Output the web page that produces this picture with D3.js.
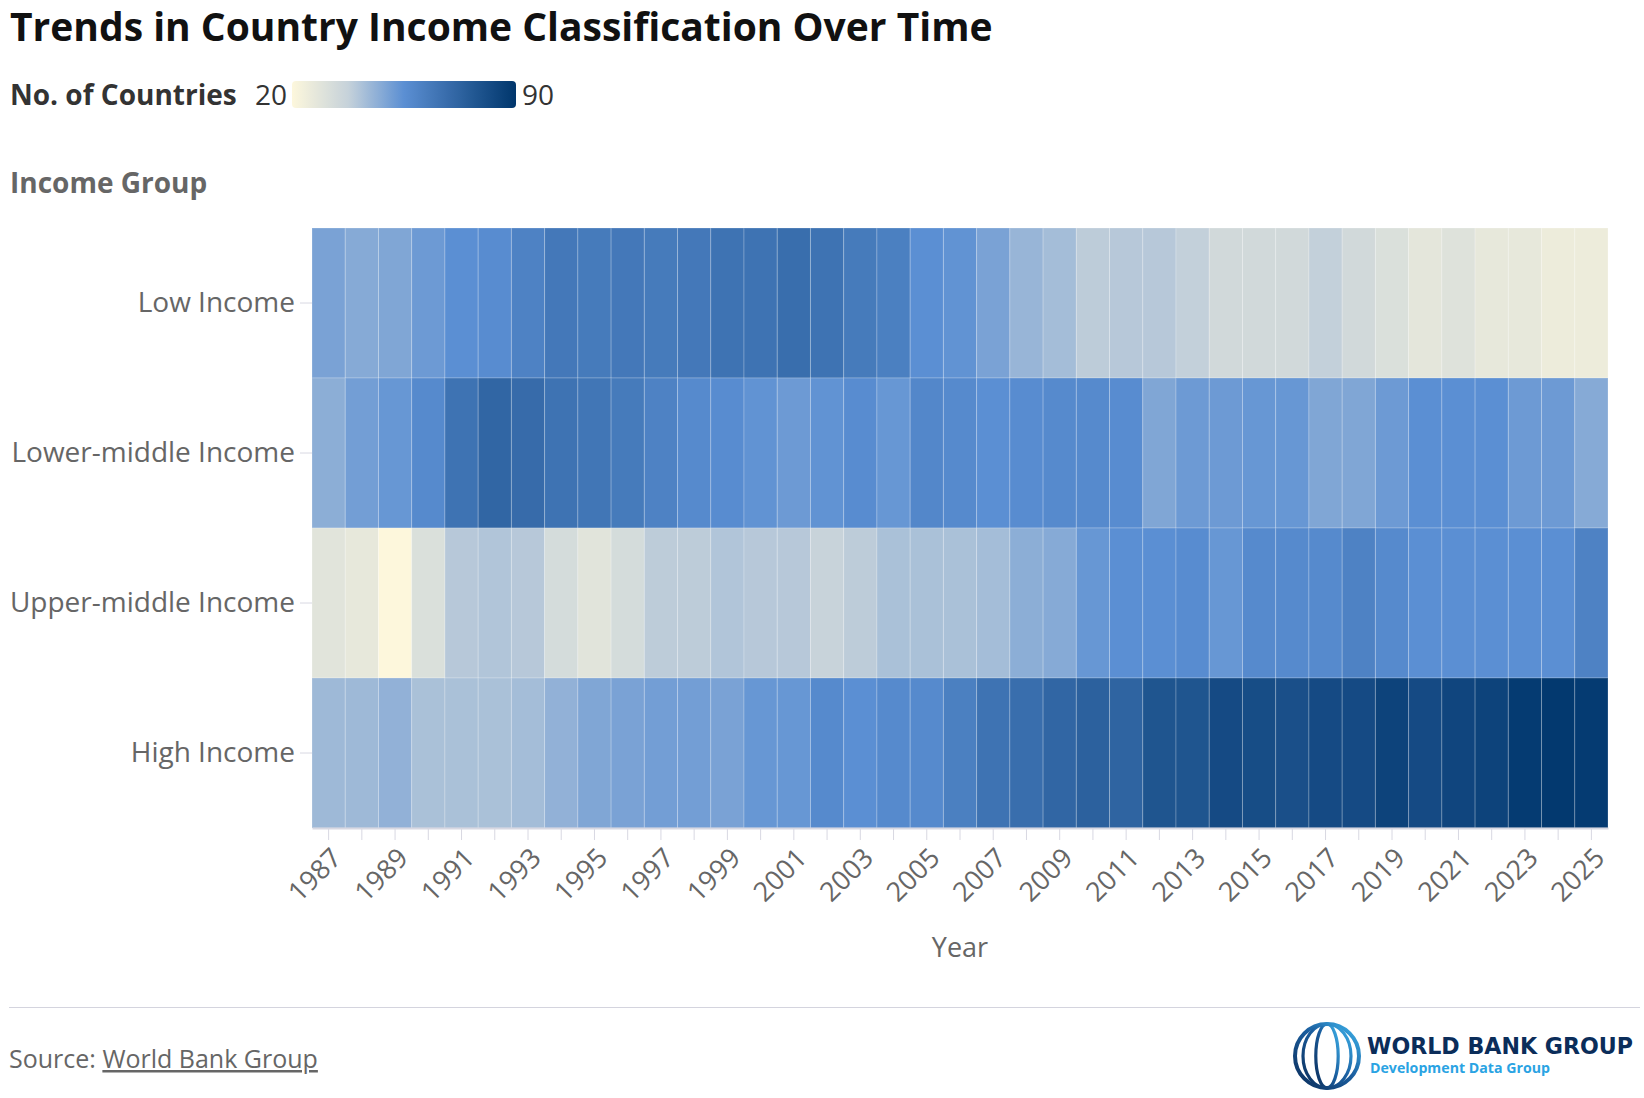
<!DOCTYPE html>
<html>
<head>
<meta charset="utf-8">
<script src="https://cdn.jsdelivr.net/npm/d3@7"></script>
<style>
  body { margin: 0; background: #fff; }
  svg { display: block; font-family: "Open Sans", "Noto Sans", sans-serif; }
</style>
</head>
<body>
<div id="mainDiv"></div>
<script>
'use strict';

// ---- data ----
var years = [1987, 1988, 1989, 1990, 1991, 1992, 1993, 1994, 1995, 1996,
             1997, 1998, 1999, 2000, 2001, 2002, 2003, 2004, 2005, 2006,
             2007, 2008, 2009, 2010, 2011, 2012, 2013, 2014, 2015, 2016,
             2017, 2018, 2019, 2020, 2021, 2022, 2023, 2024, 2025];

var incomeGroups = ["Low Income", "Lower-middle Income", "Upper-middle Income", "High Income"];

var lowIncome   = [50, 48, 49, 52, 55, 56, 60, 64, 63, 64, 63, 64, 66, 66, 68, 66, 63, 61, 55, 54,
                   50, 45, 43, 39, 40, 40, 38, 34, 34, 34, 38, 34, 31, 28, 30, 27, 27, 25, 25];
var lowerMiddle = [47, 51, 53, 57, 66, 71, 69, 66, 65, 63, 60, 57, 56, 54, 52, 54, 56, 53, 58, 57,
                   55, 56, 57, 57, 56, 49, 52, 52, 53, 53, 49, 49, 52, 55, 55, 55, 52, 52, 48];
var upperMiddle = [29, 27, 20, 31, 40, 41, 40, 33, 29, 33, 39, 39, 41, 40, 40, 37, 39, 42, 42, 42,
                   43, 47, 48, 53, 55, 55, 56, 53, 57, 57, 57, 60, 57, 55, 55, 55, 55, 55, 60];
var highIncome  = [44, 44, 46, 42, 42, 42, 43, 46, 49, 50, 51, 51, 50, 53, 53, 57, 55, 57, 57, 61,
                   66, 68, 71, 73, 72, 78, 78, 82, 81, 80, 82, 82, 85, 82, 84, 85, 88, 89, 88];

var seriesValues = [lowIncome, lowerMiddle, upperMiddle, highIncome];

var legendTicks = [20, 90];
var colorDomain = [20, 37.5, 55, 90];
var colorStops  = ["#fdf7dc", "#c6d2da", "#5b8fd3", "#00366c"];

// ---- chart ----
var heatmap = {};

heatmap.width  = 1644;
heatmap.height = 1098;
heatmap.plot   = {left: 312, right: 1608, top: 228, bottom: 828};

heatmap.xScale = d3.scaleBand().domain(years).range([heatmap.plot.left, heatmap.plot.right]);
heatmap.yScale = d3.scaleBand().domain(incomeGroups).range([heatmap.plot.top, heatmap.plot.bottom]);

heatmap.colorScale = d3.scaleLinear()
    .domain(colorDomain)
    .range(colorStops)
    .clamp(true);

heatmap.appendSVG = function(DOMObj) {
    return d3.select(DOMObj).append("svg")
        .attr("width", heatmap.width)
        .attr("height", heatmap.height);
};

heatmap.drawHeader = function(svg) {
    svg.append("text")
        .attr("x", 10).attr("y", 41)
        .attr("font-size", 39).attr("font-weight", 700)
        .attr("fill", "#111")
        .text("Trends in Country Income Classification Over Time");

    svg.append("text")
        .attr("x", 10).attr("y", 105)
        .attr("font-size", 28).attr("font-weight", 700)
        .attr("fill", "#333")
        .text("No. of Countries");

    // legend gradient
    var grad = svg.select("defs").append("linearGradient")
        .attr("id", "legendGrad")
        .attr("x1", "0%").attr("x2", "100%");
    var lo = legendTicks[0], hi = legendTicks[1];
    d3.range(0, 1.0001, 0.05).forEach(function(t) {
        grad.append("stop")
            .attr("offset", (t * 100) + "%")
            .attr("stop-color", heatmap.colorScale(lo + t * (hi - lo)));
    });

    var lx = 292, lw = 224;
    svg.append("rect")
        .attr("x", lx).attr("y", 81)
        .attr("width", lw).attr("height", 27)
        .attr("rx", 4)
        .attr("fill", "url(#legendGrad)");

    svg.append("text")
        .attr("x", lx - 5).attr("y", 105)
        .attr("text-anchor", "end")
        .attr("font-size", 28).attr("fill", "#333")
        .text(legendTicks[0]);
    svg.append("text")
        .attr("x", lx + lw + 6).attr("y", 105)
        .attr("font-size", 28).attr("fill", "#333")
        .text(legendTicks[1]);

    svg.append("text")
        .attr("x", 10).attr("y", 193)
        .attr("font-size", 28).attr("font-weight", 700)
        .attr("fill", "#666")
        .text("Income Group");
};

heatmap.drawCells = function(svg) {
    var cells = [];
    incomeGroups.forEach(function(g, gi) {
        years.forEach(function(y, yi) {
            cells.push({group: g, year: y, value: seriesValues[gi][yi]});
        });
    });

    svg.append("g").selectAll("rect")
        .data(cells)
        .enter().append("rect")
        .attr("x", function(d) { return heatmap.xScale(d.year); })
        .attr("y", function(d) { return heatmap.yScale(d.group); })
        .attr("width", heatmap.xScale.bandwidth())
        .attr("height", heatmap.yScale.bandwidth())
        .attr("fill", function(d) { return heatmap.colorScale(d.value); })
        .attr("stroke", "rgba(255,255,255,0.22)")
        .attr("stroke-width", 1);
};

heatmap.drawAxes = function(svg) {
    var axisColor = "#d8d8e2";

    var yAxis = svg.append("g")
        .attr("transform", "translate(" + heatmap.plot.left + ",0)")
        .call(d3.axisLeft(heatmap.yScale).tickSize(12).tickPadding(5));
    yAxis.select(".domain").remove();
    yAxis.selectAll(".tick line").attr("stroke", axisColor);
    yAxis.selectAll(".tick text")
        .attr("font-size", 28)
        .attr("font-family", "Open Sans, sans-serif")
        .attr("fill", "#666");

    var xAxis = svg.append("g")
        .attr("transform", "translate(0," + heatmap.plot.bottom + ")")
        .call(d3.axisBottom(heatmap.xScale)
            .tickSize(12)
            .tickSizeOuter(0)
            .tickFormat(function(d, i) { return i % 2 === 0 ? d : ""; }));
    xAxis.select(".domain").attr("stroke", axisColor).attr("stroke-width", 2);
    xAxis.selectAll(".tick line").attr("stroke", axisColor);
    xAxis.selectAll(".tick text")
        .attr("x", 0).attr("y", 0).attr("dy", "0.35em")
        .attr("transform", "translate(8,25) rotate(-45)")
        .style("text-anchor", "end")
        .attr("font-size", 27)
        .attr("font-family", "Open Sans, sans-serif")
        .attr("fill", "#666");

    svg.append("text")
        .attr("x", (heatmap.plot.left + heatmap.plot.right) / 2)
        .attr("y", 957)
        .attr("text-anchor", "middle")
        .attr("font-size", 27).attr("fill", "#666")
        .text("Year");
};

heatmap.drawFooter = function(svg) {
    svg.append("line")
        .attr("x1", 9).attr("x2", 1640)
        .attr("y1", 1007.5).attr("y2", 1007.5)
        .attr("stroke", "#d4d4de").attr("stroke-width", 1);

    var src = svg.append("text")
        .attr("x", 9).attr("y", 1068)
        .attr("font-size", 25).attr("fill", "#666");
    src.append("tspan").text("Source: ");
    src.append("tspan")
        .attr("text-decoration", "underline")
        .text("World Bank Group");

    // World Bank Group logo
    var logo = svg.append("g").attr("transform", "translate(1327,1056)");
    var lg = svg.select("defs").append("linearGradient")
        .attr("id", "globeGrad")
        .attr("x1", "0%").attr("y1", "100%").attr("x2", "100%").attr("y2", "0%");
    lg.append("stop").attr("offset", "0%").attr("stop-color", "#0b2d5a");
    lg.append("stop").attr("offset", "55%").attr("stop-color", "#1b5fa0");
    lg.append("stop").attr("offset", "100%").attr("stop-color", "#3fb6ee");

    var r = 32;
    logo.append("circle").attr("r", r)
        .attr("fill", "none").attr("stroke", "url(#globeGrad)").attr("stroke-width", 4);
    [0.35, 0.75].forEach(function(k) {
        logo.append("ellipse").attr("rx", r * k).attr("ry", r)
            .attr("fill", "none").attr("stroke", "url(#globeGrad)").attr("stroke-width", 3.2);
    });
    [-0.55, 0, 0.55].forEach(function(k) {
        var yy = r * k, half = Math.sqrt(r * r - yy * yy);
        logo.append("line")
            .attr("x1", -half).attr("x2", half)
            .attr("y1", yy).attr("y2", yy)
            .attr("stroke", "url(#globeGrad)").attr("stroke-width", 3.2);
    });
    logo.append("line").attr("x1", 0).attr("x2", 0).attr("y1", -r).attr("y2", r)
        .attr("stroke", "url(#globeGrad)").attr("stroke-width", 3.2);

    svg.append("text")
        .attr("x", 1367).attr("y", 1054)
        .attr("font-family", "DejaVu Sans, sans-serif")
        .attr("font-size", 23).attr("font-weight", 700)
        .attr("fill", "#0b2d5a")
        .attr("textLength", 266).attr("lengthAdjust", "spacingAndGlyphs")
        .text("WORLD BANK GROUP");
    svg.append("text")
        .attr("x", 1370).attr("y", 1073)
        .attr("font-family", "Open Sans, sans-serif")
        .attr("font-size", 15).attr("font-weight", 700)
        .attr("fill", "#2aa3e3")
        .attr("textLength", 180).attr("lengthAdjust", "spacingAndGlyphs")
        .text("Development Data Group");
};

heatmap.start = function() {
    var svg = heatmap.appendSVG("#mainDiv");
    svg.append("rect").attr("width", heatmap.width).attr("height", heatmap.height).attr("fill", "#fff");
    svg.append("defs");
    heatmap.drawHeader(svg);
    heatmap.drawCells(svg);
    heatmap.drawAxes(svg);
    heatmap.drawFooter(svg);
};

window.onload = heatmap.start;
</script>
</body>
</html>
